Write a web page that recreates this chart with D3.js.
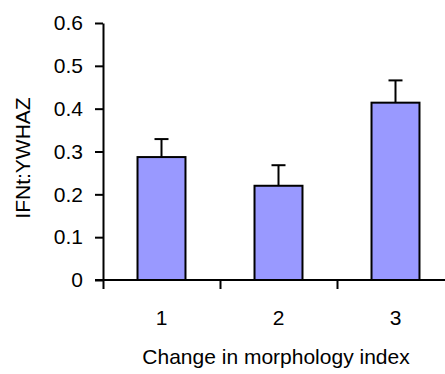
<!DOCTYPE html>
<html lang="en">
<head>
    <meta charset="UTF-8">
    <title>IFNt:YWHAZ by morphology change</title>
    <script src="https://d3js.org/d3.v7.min.js"></script>
    <style>
        body { margin: 0; background: #fff; }
        text { font-family: "Liberation Sans", Arial, sans-serif; }
    </style>
</head>
<body>
    <svg width="445" height="374"></svg>
    <script>
        const categories = ["1", "2", "3"];
        const means = [0.287, 0.220, 0.414];
        const errors = [0.042, 0.048, 0.052];
        const yTicks = [0, 0.1, 0.2, 0.3, 0.4, 0.5, 0.6];

        const svg = d3.select("svg");
        const fontSize = 21;

        const y = d3.scaleLinear().domain([0, 0.6]).range([280, 23]);
        const xEdge = d3.scaleLinear().domain([0, 3]).range([103, 454]);
        const x = d3.scaleBand()
            .domain(categories)
            .range([103, 454])
            .paddingInner(0.59)
            .paddingOuter(0.295);

        // bars
        svg.selectAll("rect.bar")
            .data(categories)
            .enter()
            .append("rect")
            .attr("class", "bar")
            .attr("x", d => x(d))
            .attr("y", (d, i) => y(means[i]))
            .attr("width", x.bandwidth())
            .attr("height", (d, i) => y(0) - y(means[i]))
            .attr("fill", "#9999ff")
            .attr("stroke", "#000")
            .attr("stroke-width", 2);

        // error bars (upper only)
        const capW = 14;
        const eb = svg.selectAll("g.err")
            .data(categories)
            .enter()
            .append("g")
            .attr("class", "err")
            .attr("stroke", "#000")
            .attr("stroke-width", 2);
        eb.append("line")
            .attr("x1", d => x(d) + x.bandwidth() / 2)
            .attr("x2", d => x(d) + x.bandwidth() / 2)
            .attr("y1", (d, i) => y(means[i]))
            .attr("y2", (d, i) => y(means[i] + errors[i]));
        eb.append("line")
            .attr("x1", d => x(d) + x.bandwidth() / 2 - capW / 2)
            .attr("x2", d => x(d) + x.bandwidth() / 2 + capW / 2)
            .attr("y1", (d, i) => y(means[i] + errors[i]))
            .attr("y2", (d, i) => y(means[i] + errors[i]));

        // y axis
        const yAxis = svg.append("g")
            .attr("transform", "translate(103,0)")
            .call(d3.axisLeft(y)
                .tickValues(yTicks)
                .tickSize(8)
                .tickSizeOuter(0)
                .tickPadding(12)
                .tickFormat(d => d === 0 ? "0" : d.toFixed(1)));

        // x axis: boundary ticks
        const xAxis = svg.append("g")
            .attr("transform", "translate(0,280)")
            .call(d3.axisBottom(xEdge)
                .tickValues([0, 1, 2, 3])
                .tickSize(9)
                .tickSizeOuter(0)
                .tickFormat(""));
        xAxis.select(".domain").attr("d", "M95,0H454");

        // x category labels
        const xLab = svg.append("g")
            .attr("transform", "translate(0,280)")
            .call(d3.axisBottom(x).tickSize(0).tickPadding(30));
        xLab.select(".domain").remove();

        [yAxis, xAxis].forEach(g => {
            g.selectAll("line, path").attr("stroke", "#000").attr("stroke-width", 2);
        });
        svg.selectAll(".tick text")
            .attr("fill", "#000")
            .style("font-size", fontSize + "px")
            .style("font-family", "'Liberation Sans', Arial, sans-serif");
        xLab.selectAll(".tick text").attr("dy", "0.71em");

        // axis titles
        svg.append("text")
            .attr("x", 276)
            .attr("y", 364)
            .attr("text-anchor", "middle")
            .style("font-size", fontSize + "px")
            .text("Change in morphology index");

        svg.append("text")
            .attr("transform", "translate(30,158) rotate(-90)")
            .attr("text-anchor", "middle")
            .style("font-size", fontSize + "px")
            .text("IFNt:YWHAZ");
    </script>
</body>
</html>
